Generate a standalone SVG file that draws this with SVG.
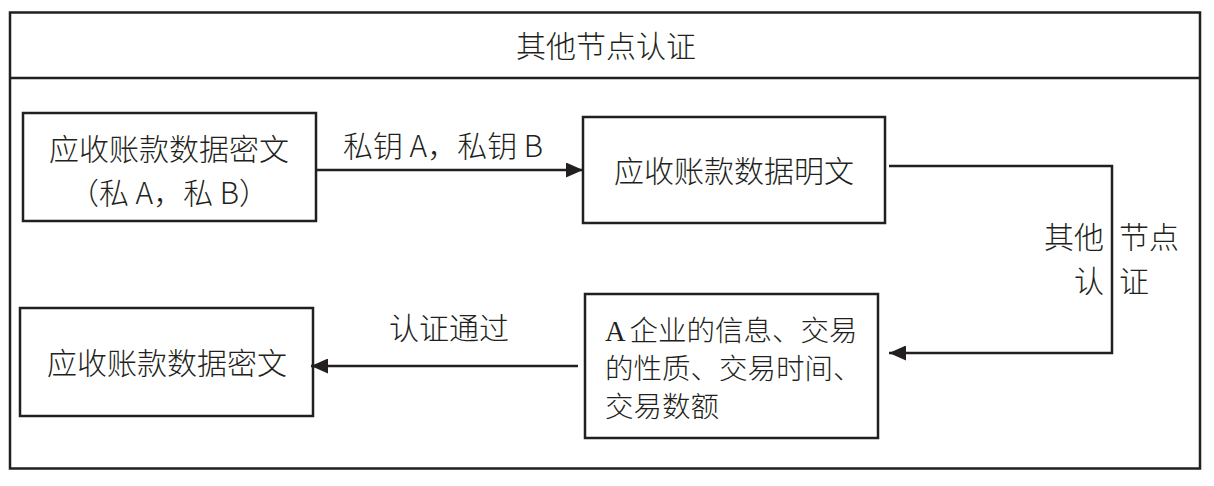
<svg xmlns="http://www.w3.org/2000/svg" width="1214" height="486" viewBox="0 0 1214 486">
<style>
.box{fill:#fff;stroke:#231f20;stroke-width:2.5}
.frame{fill:none;stroke:#231f20;stroke-width:2.5}
.edge{fill:none;stroke:#231f20;stroke-width:2.5}
.t{font-family:"Noto Sans CJK SC","Liberation Sans",sans-serif;font-size:30px;font-weight:300;fill:#231f20}
.c{text-anchor:middle}
.e{text-anchor:end}
.serif{font-size:28.5px}
.lat{font-family:"Liberation Serif",serif;font-weight:400}
</style>
<defs>
<marker id="arr" viewBox="0 0 17 15" refX="17" refY="7.5" markerWidth="17" markerHeight="15" markerUnits="userSpaceOnUse" orient="auto">
<path d="M0,0 L17,7.5 L0,15 Z" fill="#231f20"/>
</marker>
</defs>
<rect width="1214" height="486" fill="#fff"/>
<g id="frame">
<rect class="frame" x="10" y="12.5" width="1190" height="456"/>
<line class="frame" x1="10" y1="78" x2="1200" y2="78"/>
<text class="t c" x="606" y="57">其他节点认证</text>
</g>
<g id="node-cipher1">
<rect class="box" x="23" y="113" width="293" height="108"/>
<text class="t c" x="169" y="160">应收账款数据密文</text>
<text class="t c" x="169" y="204">（私 A，私 B）</text>
</g>
<g id="node-plain">
<rect class="box" x="583" y="117" width="302" height="106"/>
<text class="t c" x="734" y="182">应收账款数据明文</text>
</g>
<g id="node-info">
<rect class="box" x="585" y="294" width="293" height="144"/>
<text class="t serif" x="605" y="341"><tspan class="lat">A</tspan><tspan dx="4">企业的信息、交易</tspan></text>
<text class="t serif" x="605" y="379">的性质、交易时间、</text>
<text class="t serif" x="605" y="417">交易数额</text>
</g>
<g id="node-cipher2">
<rect class="box" x="20" y="308" width="293" height="108"/>
<text class="t c" x="167" y="374">应收账款数据密文</text>
</g>
<g id="connectors">
<line class="edge" x1="316" y1="170" x2="583" y2="170" marker-end="url(#arr)"/>
<text class="t c" x="443" y="157">私钥 A，私钥 B</text>
<polyline class="edge" points="889,166 1112,166 1112,353 889,353" marker-end="url(#arr)"/>
<text class="t e" x="1104" y="248">其他</text>
<text class="t" x="1119" y="248">节点</text>
<text class="t e" x="1104" y="292">认</text>
<text class="t" x="1119" y="292">证</text>
<line class="edge" x1="578" y1="366" x2="311" y2="366" marker-end="url(#arr)"/>
<text class="t c" x="449" y="339">认证通过</text>
</g>
</svg>
